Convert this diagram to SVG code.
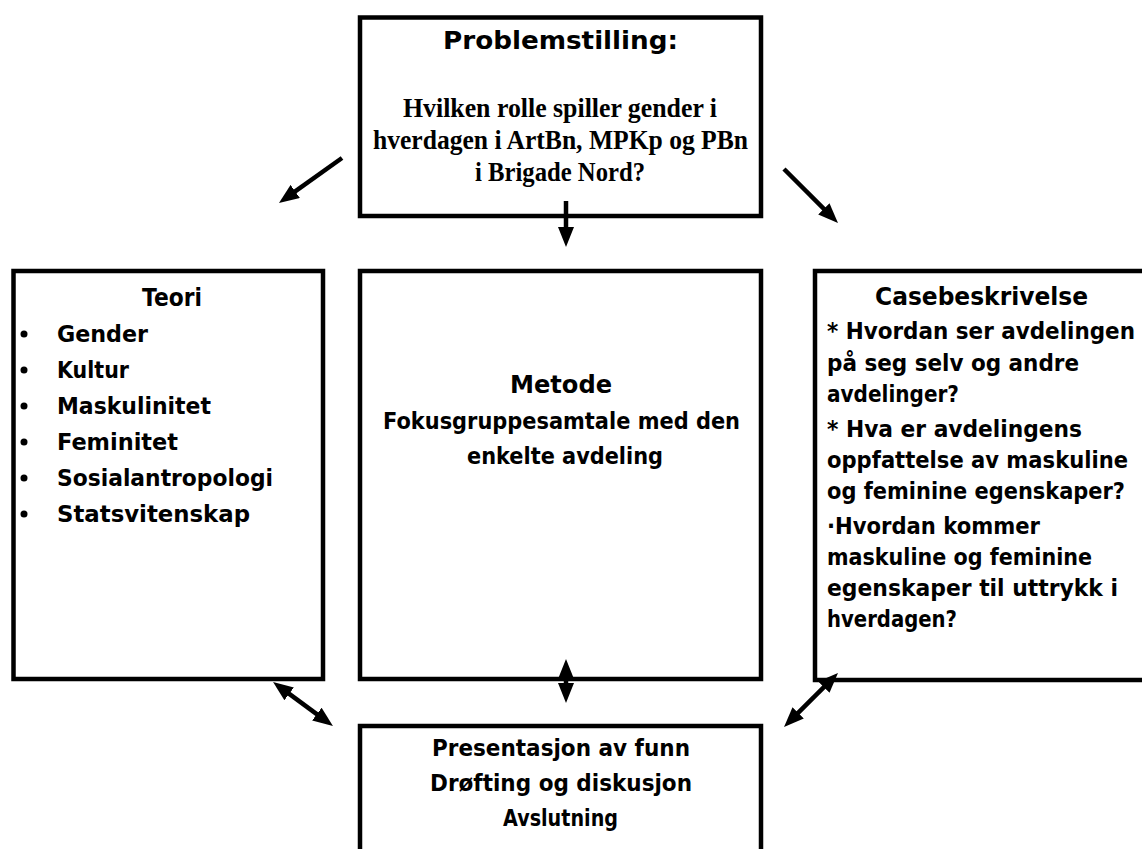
<svg xmlns="http://www.w3.org/2000/svg" width="1142" height="849" viewBox="0 0 1142 849">
<style>
.box{fill:#fff;stroke:#000;stroke-width:4.5}
.c{font-family:'DejaVu Sans','Liberation Sans',sans-serif;font-weight:bold;font-size:23px;fill:#000}
.h{font-size:25px}
.s{font-family:'Liberation Serif','Times New Roman',serif;font-weight:bold;font-size:27px;fill:#000}
.ln{stroke:#000;stroke-width:4.5;fill:none}
.one{marker-end:url(#ah)}
.two{marker-start:url(#ah);marker-end:url(#ah)}
</style>
<defs>
<marker id="ah" markerUnits="userSpaceOnUse" markerWidth="20" markerHeight="16" refX="10" refY="8" orient="auto-start-reverse" viewBox="0 0 20 16">
<path d="M0,0 L20,8 L0,16 z" fill="#000"/>
</marker>
</defs>
<rect width="1142" height="849" fill="#fff"/>
<g id="problemstilling">
<rect class="box" x="360" y="17.5" width="401" height="198.5"/>
<text class="c h" x="443" y="49" textLength="235" lengthAdjust="spacingAndGlyphs">Problemstilling:</text>
<text class="s" x="403" y="117" textLength="314" lengthAdjust="spacingAndGlyphs">Hvilken rolle spiller gender i</text>
<text class="s" x="373" y="149" textLength="375" lengthAdjust="spacingAndGlyphs">hverdagen i ArtBn, MPKp og PBn</text>
<text class="s" x="475" y="181" textLength="170" lengthAdjust="spacingAndGlyphs">i Brigade Nord?</text>
</g>
<g id="teori">
<rect class="box" x="13.5" y="271" width="309.5" height="408"/>
<text class="c h" x="142" y="306" textLength="60" lengthAdjust="spacingAndGlyphs">Teori</text>
<g fill="#000">
<circle cx="24" cy="334" r="3.5"/><circle cx="24" cy="370" r="3.5"/><circle cx="24" cy="406" r="3.5"/>
<circle cx="24" cy="442" r="3.5"/><circle cx="24" cy="478" r="3.5"/><circle cx="24" cy="514" r="3.5"/>
</g>
<text class="c" x="57" y="342" textLength="91" lengthAdjust="spacingAndGlyphs">Gender</text>
<text class="c" x="57" y="378" textLength="72" lengthAdjust="spacingAndGlyphs">Kultur</text>
<text class="c" x="57" y="414" textLength="154" lengthAdjust="spacingAndGlyphs">Maskulinitet</text>
<text class="c" x="57" y="450" textLength="121" lengthAdjust="spacingAndGlyphs">Feminitet</text>
<text class="c" x="57" y="486" textLength="216" lengthAdjust="spacingAndGlyphs">Sosialantropologi</text>
<text class="c" x="57" y="522" textLength="193" lengthAdjust="spacingAndGlyphs">Statsvitenskap</text>
</g>
<g id="metode">
<rect class="box" x="360" y="271" width="401" height="408"/>
<text class="c h" x="510" y="393" textLength="102" lengthAdjust="spacingAndGlyphs">Metode</text>
<text class="c" x="383" y="429" textLength="357" lengthAdjust="spacingAndGlyphs">Fokusgruppesamtale med den</text>
<text class="c" x="467" y="464" textLength="196" lengthAdjust="spacingAndGlyphs">enkelte avdeling</text>
</g>
<g id="casebeskrivelse">
<rect class="box" x="815" y="271" width="340" height="409"/>
<text class="c h" x="875" y="305" textLength="213" lengthAdjust="spacingAndGlyphs">Casebeskrivelse</text>
<text class="c" x="827" y="339" textLength="308" lengthAdjust="spacingAndGlyphs">* Hvordan ser avdelingen</text>
<text class="c" x="827" y="371" textLength="252" lengthAdjust="spacingAndGlyphs">på seg selv og andre</text>
<text class="c" x="827" y="402" textLength="132" lengthAdjust="spacingAndGlyphs">avdelinger?</text>
<text class="c" x="827" y="437" textLength="255" lengthAdjust="spacingAndGlyphs">* Hva er avdelingens</text>
<text class="c" x="827" y="468" textLength="301" lengthAdjust="spacingAndGlyphs">oppfattelse av maskuline</text>
<text class="c" x="827" y="499" textLength="298" lengthAdjust="spacingAndGlyphs">og feminine egenskaper?</text>
<text class="c" x="827" y="534" textLength="213" lengthAdjust="spacingAndGlyphs">·Hvordan kommer</text>
<text class="c" x="827" y="565" textLength="265" lengthAdjust="spacingAndGlyphs">maskuline og feminine</text>
<text class="c" x="827" y="596" textLength="291" lengthAdjust="spacingAndGlyphs">egenskaper til uttrykk i</text>
<text class="c" x="827" y="627" textLength="130" lengthAdjust="spacingAndGlyphs">hverdagen?</text>
</g>
<g id="resultat">
<rect class="box" x="360" y="726" width="401" height="200"/>
<text class="c" x="432" y="756" textLength="258" lengthAdjust="spacingAndGlyphs">Presentasjon av funn</text>
<text class="c" x="430" y="791" textLength="262" lengthAdjust="spacingAndGlyphs">Drøfting og diskusjon</text>
<text class="c" x="503" y="826" textLength="115" lengthAdjust="spacingAndGlyphs">Avslutning</text>
</g>
<g id="connectors">
<line class="ln one" x1="342" y1="158" x2="287.1" y2="197.2"/>
<line class="ln one" x1="784" y1="169" x2="830.9" y2="215.9"/>
<line class="ln one" x1="566" y1="201" x2="566" y2="237"/>
<line class="ln two" x1="281.1" y1="687.9" x2="324.9" y2="720.1"/>
<line class="ln two" x1="566" y1="669" x2="566" y2="693"/>
<line class="ln two" x1="830.9" y1="680.1" x2="791.1" y2="719.9"/>
</g>
</svg>
